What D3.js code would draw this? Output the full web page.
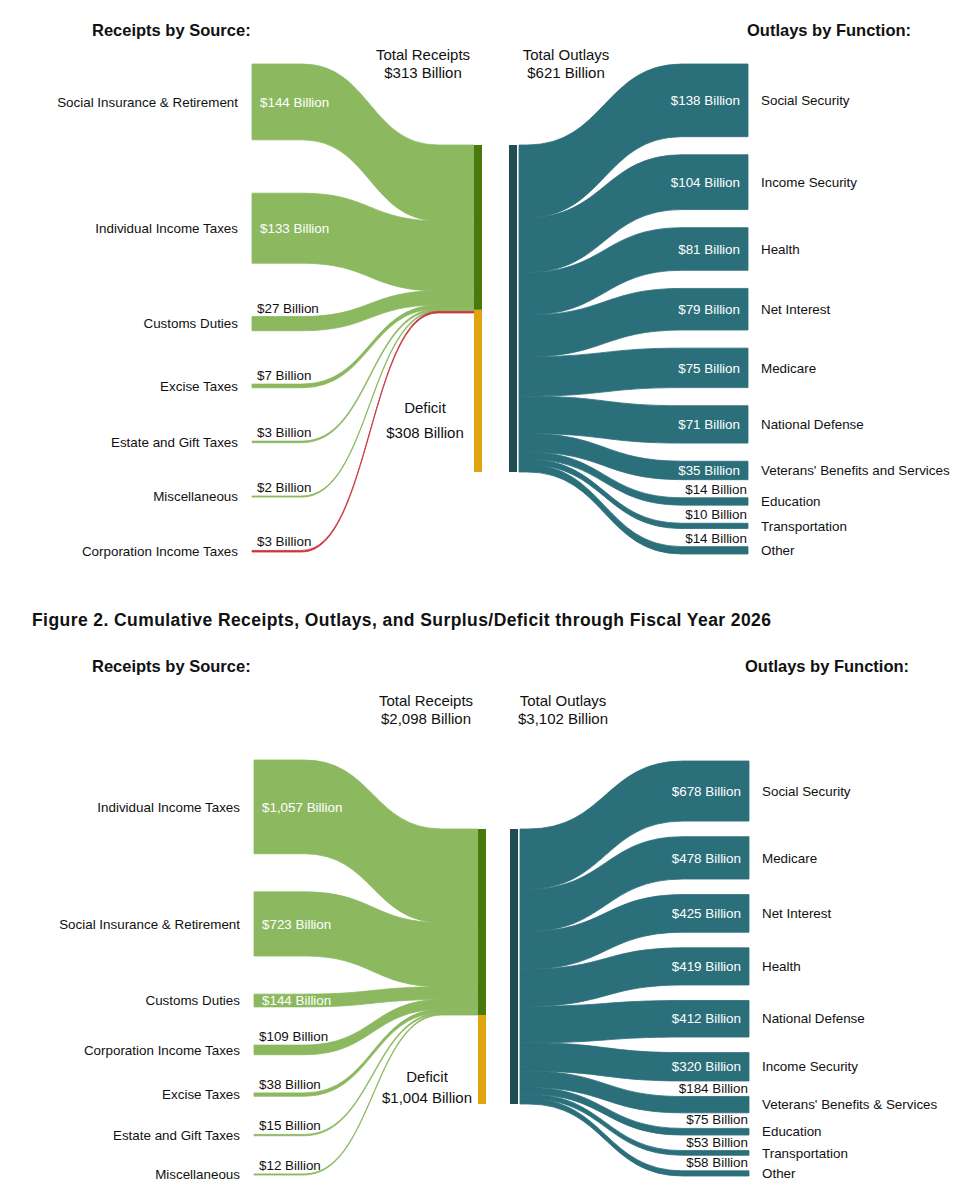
<!DOCTYPE html>
<html>
  <head>
    <title>Receipts and Outlays</title>
    <script src="https://cdn.jsdelivr.net/npm/d3@7"></script>
    <style>
      body { margin: 0; background: #fff; }
      text { font-family: "Liberation Sans", Arial, sans-serif; fill: #111; }
    </style>
  </head>
  <body>
    <svg width="976" height="1200"></svg>
    <script>
      // Figure 1: month
      const receiptSources1 = ["Social Insurance & Retirement", "Individual Income Taxes", "Customs Duties",
        "Excise Taxes", "Estate and Gift Taxes", "Miscellaneous", "Corporation Income Taxes"];
      const receiptValues1 = [144, 133, 27, 7, 3, 2, -3];
      const outlayFunctions1 = ["Social Security", "Income Security", "Health", "Net Interest", "Medicare",
        "National Defense", "Veterans' Benefits and Services", "Education", "Transportation", "Other"];
      const outlayValues1 = [138, 104, 81, 79, 75, 71, 35, 14, 10, 14];

      // Figure 2: cumulative through the fiscal year
      const receiptSources2 = ["Individual Income Taxes", "Social Insurance & Retirement", "Customs Duties",
        "Corporation Income Taxes", "Excise Taxes", "Estate and Gift Taxes", "Miscellaneous"];
      const receiptValues2 = [1057, 723, 144, 109, 38, 15, 12];
      const outlayFunctions2 = ["Social Security", "Medicare", "Net Interest", "Health", "National Defense",
        "Income Security", "Veterans' Benefits & Services", "Education", "Transportation", "Other"];
      const outlayValues2 = [678, 478, 425, 419, 412, 320, 184, 75, 53, 58];

      const figure2Title = "Figure 2. Cumulative Receipts, Outlays, and Surplus/Deficit through Fiscal Year 2026";

      const colors = {
        receipt: "#8cb960", negative: "#c9363e", outlay: "#2b6f7b",
        receiptBar: "#4a790b", deficitBar: "#e1a40f", outlayBar: "#1f4d53"
      };

      const svg = d3.select("svg");
      const fmt = d3.format(",");
      const money = v => "$" + fmt(Math.abs(v)) + " Billion";

      function ribbon(xa, ya0, ya1, xb, yb0, yb1, fa, fb) {
        const c0 = xa + fa, c1 = xb - fb, m = (c0 + c1) / 2;
        const p = d3.path();
        p.moveTo(xa, ya0);
        p.lineTo(c0, ya0);
        p.bezierCurveTo(m, ya0, m, yb0, c1, yb0);
        p.lineTo(xb, yb0);
        p.lineTo(xb, yb1);
        p.lineTo(c1, yb1);
        p.bezierCurveTo(m, yb1, m, ya1, c0, ya1);
        p.lineTo(xa, ya1);
        p.closePath();
        return p.toString();
      }

      // spread nodes down a column with equal gaps
      function column(values, top, bottom, k) {
        const h = values.map(v => Math.abs(v) * k);
        const gap = (bottom - top - d3.sum(h)) / (values.length - 1);
        let y = top;
        return h.map(hh => { const n = {y0: y, y1: y + hh}; y += hh + gap; return n; });
      }

      function drawSankey(g, srcNames, srcValues, outNames, outValues, cfg) {
        const totalOut = d3.sum(outValues);
        const totalRec = d3.sum(srcValues);
        const y = d3.scaleLinear().domain([0, totalOut]).range([cfg.barTop, cfg.barBottom]);
        const k = (cfg.barBottom - cfg.barTop) / totalOut;

        // receipts side
        const left = column(srcValues, cfg.leftTop, cfg.leftBottom, k);
        let acc = 0;
        const recLinks = srcValues.map((v, i) => {
          const a = Math.abs(v);
          const d = {name: srcNames[i], value: v, node: left[i], t0: y(acc), t1: y(acc + a)};
          acc += a;
          return d;
        });

        g.selectAll("path.rec").data(recLinks).join("path")
          .attr("class", "rec")
          .attr("fill", d => d.value < 0 ? colors.negative : colors.receipt)
          .attr("stroke", d => d.value < 0 ? colors.negative : colors.receipt)
          .attr("stroke-width", 0.8)
          .attr("d", d => ribbon(cfg.xLeft, d.node.y0, d.node.y1, cfg.xRecBar, d.t0, d.t1, 50, 36));

        g.selectAll("text.recName").data(recLinks).join("text")
          .attr("class", "recName")
          .attr("x", cfg.xLeft - 14)
          .attr("y", d => (d.node.y0 + d.node.y1) / 2)
          .attr("dy", "0.35em")
          .attr("text-anchor", "end")
          .attr("font-size", 13.4)
          .text(d => d.name);

        g.selectAll("text.recVal").data(recLinks).join("text")
          .attr("class", "recVal")
          .attr("x", d => Math.abs(d.value) >= cfg.leftInside ? cfg.xLeft + 8 : cfg.xLeft + 5)
          .attr("y", d => Math.abs(d.value) >= cfg.leftInside ? (d.node.y0 + d.node.y1) / 2 : d.node.y0 - 4)
          .attr("dy", d => Math.abs(d.value) >= cfg.leftInside ? "0.35em" : 0)
          .attr("font-size", 13.4)
          .style("fill", d => Math.abs(d.value) >= cfg.leftInside ? "#fff" : "#111")
          .text(d => money(d.value));

        // outlays side
        const right = column(outValues, cfg.rightTop, cfg.rightBottom, k);
        acc = 0;
        const outLinks = outValues.map((v, i) => {
          const d = {name: outNames[i], value: v, node: right[i], s0: y(acc), s1: y(acc + v)};
          acc += v;
          return d;
        });

        g.selectAll("path.out").data(outLinks).join("path")
          .attr("class", "out")
          .attr("fill", colors.outlay)
          .attr("stroke", colors.outlay)
          .attr("stroke-width", 0.8)
          .attr("d", d => ribbon(cfg.xOutBar + cfg.barW + 2, d.s0, d.s1, cfg.xRight, d.node.y0, d.node.y1, 8, 66));

        g.selectAll("text.outName").data(outLinks).join("text")
          .attr("class", "outName")
          .attr("x", cfg.xRight + 13)
          .attr("y", d => (d.node.y0 + d.node.y1) / 2)
          .attr("dy", "0.35em")
          .attr("font-size", 13.4)
          .text(d => d.name);

        g.selectAll("text.outVal").data(outLinks).join("text")
          .attr("class", "outVal")
          .attr("x", d => d.value >= cfg.rightInside ? cfg.xRight - 8 : cfg.xRight - 1)
          .attr("y", d => d.value >= cfg.rightInside ? (d.node.y0 + d.node.y1) / 2 : d.node.y0 - 4)
          .attr("dy", d => d.value >= cfg.rightInside ? "0.35em" : 0)
          .attr("text-anchor", "end")
          .attr("font-size", 13.4)
          .style("fill", d => d.value >= cfg.rightInside ? "#fff" : "#111")
          .text(d => money(d.value));

        // center bars
        g.append("rect")
          .attr("x", cfg.xRecBar).attr("width", cfg.barW)
          .attr("y", y(0)).attr("height", y(totalRec) - y(0))
          .attr("fill", colors.receiptBar);
        g.append("rect")
          .attr("x", cfg.xRecBar).attr("width", cfg.barW)
          .attr("y", y(totalRec)).attr("height", y(totalOut) - y(totalRec))
          .attr("fill", colors.deficitBar);
        g.append("rect")
          .attr("x", cfg.xOutBar).attr("width", cfg.barW)
          .attr("y", y(0)).attr("height", y(totalOut) - y(0))
          .attr("fill", colors.outlayBar);

        // headings
        g.append("text").attr("x", 92).attr("y", cfg.headY)
          .attr("font-size", 16.5).attr("font-weight", "bold").text("Receipts by Source:");
        g.append("text").attr("x", cfg.outHeadX).attr("y", cfg.headY)
          .attr("font-size", 16.5).attr("font-weight", "bold").text("Outlays by Function:");

        const tot = g.append("g").attr("font-size", 15).attr("text-anchor", "middle");
        tot.append("text").attr("x", cfg.recTotX).attr("y", cfg.totY).text("Total Receipts");
        tot.append("text").attr("x", cfg.recTotX).attr("y", cfg.totY + 18).text(money(totalRec));
        tot.append("text").attr("x", cfg.outTotX).attr("y", cfg.totY).text("Total Outlays");
        tot.append("text").attr("x", cfg.outTotX).attr("y", cfg.totY + 18).text(money(totalOut));
        tot.append("text").attr("x", cfg.defX).attr("y", cfg.defY).text("Deficit");
        tot.append("text").attr("x", cfg.defX).attr("y", cfg.defY + cfg.defGap).text(money(totalOut - totalRec));
      }

      drawSankey(svg.append("g"), receiptSources1, receiptValues1, outlayFunctions1, outlayValues1, {
        barTop: 145, barBottom: 472, leftTop: 64, leftBottom: 552, rightTop: 64, rightBottom: 554,
        xLeft: 252, xRecBar: 474, xOutBar: 509, barW: 8, xRight: 748,
        leftInside: 100, rightInside: 30,
        headY: 36, outHeadX: 747, totY: 60, recTotX: 423, outTotX: 566,
        defX: 425, defY: 413, defGap: 25
      });

      svg.append("text").attr("x", 32).attr("y", 626)
        .attr("font-size", 17.5).attr("font-weight", "bold")
        .attr("textLength", 739).attr("lengthAdjust", "spacing")
        .text(figure2Title);

      drawSankey(svg.append("g"), receiptSources2, receiptValues2, outlayFunctions2, outlayValues2, {
        barTop: 829, barBottom: 1104, leftTop: 760, leftBottom: 1175, rightTop: 761, rightBottom: 1176,
        xLeft: 254, xRecBar: 478, xOutBar: 510, barW: 8, xRight: 749,
        leftInside: 120, rightInside: 300,
        headY: 672, outHeadX: 745, totY: 706, recTotX: 426, outTotX: 563,
        defX: 427, defY: 1082, defGap: 21
      });
    </script>
  </body>
</html>
